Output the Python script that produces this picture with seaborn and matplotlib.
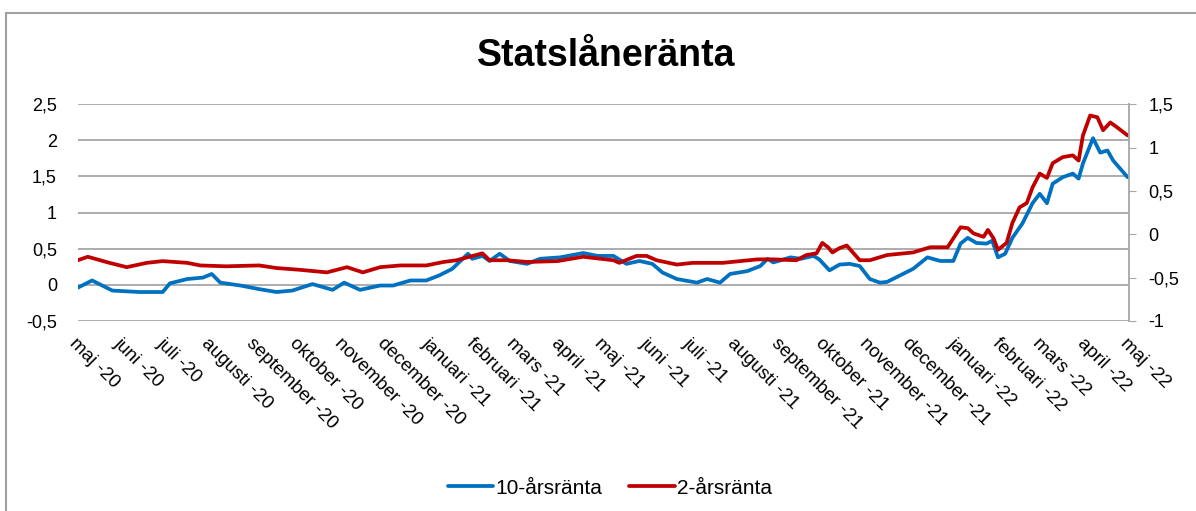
import pandas as pd
import numpy as np
import matplotlib
matplotlib.use("Agg")
import matplotlib.pyplot as plt
import matplotlib.dates as mdates
from matplotlib.ticker import FuncFormatter
import seaborn as sns

# 10-årsränta (left axis), days from 2020-05-01
days_10 = [0, 10, 24, 43, 59, 64, 76, 87, 93, 99, 113, 126, 138, 149, 163, 177, 185, 196,
           210, 219, 231, 242, 251, 260, 271, 274, 281, 286, 293, 300, 312, 321, 335, 351,
           361, 372, 381, 390, 399, 406, 416, 430, 437, 446, 453, 465, 474, 479, 483, 495,
           502, 511, 515, 522, 529, 536, 543, 550, 557, 562, 571, 580, 590, 599, 608, 613,
           618, 624, 631, 635, 639, 644, 649, 656, 663, 668, 673, 677, 684, 691, 695, 698,
           705, 710, 715, 719, 729]
rate_10 = [-0.04, 0.06, -0.08, -0.10, -0.10, 0.02, 0.08, 0.10, 0.15, 0.03, -0.01, -0.06,
           -0.10, -0.08, 0.01, -0.07, 0.03, -0.07, -0.01, -0.01, 0.06, 0.06, 0.13, 0.22,
           0.43, 0.36, 0.40, 0.33, 0.43, 0.33, 0.29, 0.36, 0.38, 0.44, 0.40, 0.40, 0.29,
           0.33, 0.29, 0.17, 0.08, 0.03, 0.08, 0.03, 0.15, 0.19, 0.26, 0.36, 0.31, 0.38,
           0.36, 0.40, 0.35, 0.20, 0.28, 0.29, 0.26, 0.08, 0.03, 0.04, 0.13, 0.22, 0.38,
           0.33, 0.33, 0.57, 0.65, 0.58, 0.57, 0.61, 0.38, 0.43, 0.65, 0.85, 1.13, 1.26,
           1.13, 1.40, 1.49, 1.54, 1.47, 1.68, 2.03, 1.83, 1.86, 1.72, 1.49]

# 2-årsränta (right axis)
days_2 = [0, 7, 22, 34, 48, 59, 76, 85, 103, 126, 138, 154, 173, 187, 198, 210, 224, 242,
          254, 263, 272, 281, 286, 298, 312, 333, 351, 372, 376, 388, 395, 402, 416, 427,
          448, 472, 483, 499, 506, 513, 517, 521, 524, 529, 534, 543, 550, 562, 580, 592,
          604, 613, 618, 622, 629, 632, 636, 639, 645, 649, 654, 659, 663, 668, 673, 677,
          684, 691, 695, 698, 703, 708, 712, 717, 722, 729]
rate_2 = [-0.30, -0.26, -0.33, -0.38, -0.33, -0.31, -0.33, -0.36, -0.37, -0.36, -0.39,
          -0.41, -0.44, -0.38, -0.44, -0.38, -0.36, -0.36, -0.32, -0.30, -0.26, -0.22,
          -0.30, -0.30, -0.32, -0.31, -0.26, -0.30, -0.33, -0.25, -0.25, -0.30, -0.35,
          -0.33, -0.33, -0.29, -0.29, -0.30, -0.24, -0.22, -0.10, -0.15, -0.21, -0.16,
          -0.13, -0.30, -0.30, -0.24, -0.21, -0.15, -0.15, 0.08, 0.07, 0.01, -0.03, 0.05,
          -0.05, -0.18, -0.10, 0.13, 0.31, 0.36, 0.54, 0.70, 0.65, 0.82, 0.89, 0.91, 0.85,
          1.14, 1.37, 1.35, 1.20, 1.29, 1.23, 1.14]

months_sv = ["januari", "februari", "mars", "april", "maj", "juni", "juli", "augusti",
             "september", "oktober", "november", "december"]

start = pd.Timestamp("2020-05-01")
df10 = pd.DataFrame({"datum": start + pd.to_timedelta(days_10, unit="D"), "ränta": rate_10})
df2 = pd.DataFrame({"datum": start + pd.to_timedelta(days_2, unit="D"), "ränta": rate_2})

sns.set_style("white")
plt.rcParams["font.family"] = ["Liberation Sans", "DejaVu Sans"]
plt.rcParams["text.color"] = "black"
plt.rcParams["xtick.color"] = "black"
plt.rcParams["ytick.color"] = "black"

fig = plt.figure(figsize=(11.96, 5.11), dpi=100)
ax = fig.add_axes([0.065, 0.372, 0.879, 0.424])
ax2 = ax.twinx()

blue = "#0070C0"
red = "#C00000"
sns.lineplot(data=df10, x="datum", y="ränta", ax=ax, color=blue, lw=2.7, label="10-årsränta", legend=False)
sns.lineplot(data=df2, x="datum", y="ränta", ax=ax2, color=red, lw=2.7, label="2-årsränta", legend=False)

ax.set_ylim(-0.5, 2.5)
ax.set_yticks(np.arange(-0.5, 2.51, 0.5))
ax2.set_ylim(-1, 1.5)
ax2.set_yticks(np.arange(-1, 1.51, 0.5))

comma = FuncFormatter(lambda v, p: ("%g" % round(v, 2)).replace(".", ","))
ax.yaxis.set_major_formatter(comma)
ax2.yaxis.set_major_formatter(comma)

ax.set_xlim(start, pd.Timestamp("2022-05-01"))
ax.xaxis.set_major_locator(mdates.MonthLocator())
ax.xaxis.set_major_formatter(FuncFormatter(
    lambda v, p: f"{months_sv[mdates.num2date(v).month - 1]} -{mdates.num2date(v).year % 100:02d}"))
for lbl in ax.get_xticklabels():
    lbl.set_rotation(-45)
    lbl.set_ha("left")
    lbl.set_va("top")
    lbl.set_rotation_mode("anchor")

ax.grid(axis="y", color="#a6a6a6", lw=1.3)
ax.set_axisbelow(True)
for s in ["top", "left", "bottom"]:
    ax.spines[s].set_visible(False)
    ax2.spines[s].set_visible(False)
ax.spines["right"].set_visible(False)
ax2.spines["right"].set_color("#a6a6a6")
ax2.spines["right"].set_linewidth(1.3)

ax.tick_params(axis="y", length=0, labelsize=13, pad=15)
ax.tick_params(axis="x", length=0, labelsize=13.5, pad=10)
ax2.tick_params(axis="y", length=5, color="#a6a6a6", labelsize=13, pad=9)
ax.set_xlabel("")
ax.set_ylabel("")
ax2.set_ylabel("")

fig.text(0.507, 0.89, "Statslåneränta", ha="center", va="center", fontsize=27, fontweight="bold")

handles = ax.get_lines()[:1] + ax2.get_lines()[:1]
fig.legend(handles, ["10-årsränta", "2-årsränta"], loc="center", bbox_to_anchor=(0.51, 0.045),
           ncol=2, frameon=False, fontsize=15, handlelength=2.2, handletextpad=0.1, columnspacing=1.3)

# outer chart frame
fig.add_artist(plt.Line2D([6 / 1196, 6 / 1196], [0, 1 - 13 / 511], transform=fig.transFigure, color="#a0a0a0", lw=1.5))
fig.add_artist(plt.Line2D([6 / 1196, 1], [1 - 13 / 511, 1 - 13 / 511], transform=fig.transFigure, color="#a0a0a0", lw=1.5))

fig.savefig("out.png", dpi=100)
